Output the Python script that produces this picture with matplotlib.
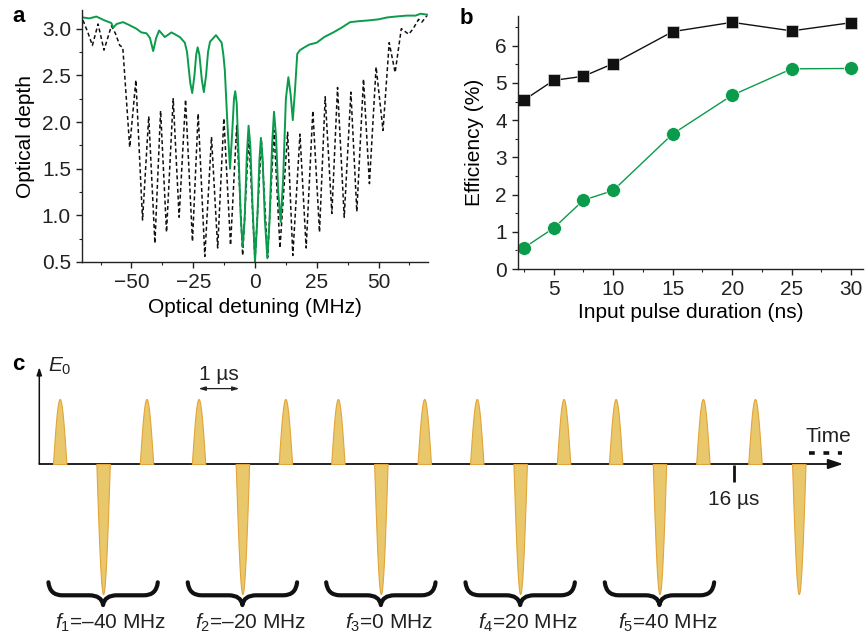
import numpy as np
import matplotlib
matplotlib.use('Agg')
import matplotlib.pyplot as plt
from matplotlib.path import Path
from matplotlib.patches import PathPatch
from matplotlib.ticker import MultipleLocator

plt.rcParams['font.family'] = ['Liberation Sans', 'DejaVu Sans']
plt.rcParams['mathtext.fontset'] = 'custom'
plt.rcParams['mathtext.rm'] = 'Liberation Sans'
plt.rcParams['mathtext.it'] = 'Liberation Sans:italic'
plt.rcParams['axes.unicode_minus'] = True

# ---- panel a: optical depth vs detuning
green_x = [-69.6, -67, -64.2, -61, -58.1, -57.4, -56, -53.4, -51, -48, -46, -43.9, -42.5,
           -41.2, -40, -38.8, -36.5, -33.8, -30.4, -28.4, -27.5, -27.0, -26.2, -25.4, -24.5,
           -23.8, -23.2, -22.5, -21.5, -20.7, -19.8, -19.0, -18.2, -15.8, -13.5, -12.8, -12.2,
           -11.2, -10.1, -9.2, -8.5, -8.0, -7.4, -6.5, -5.8, -5.0, -4.2, -3.3, -2.6, -1.9, -1.0,
           0.0, 1.0, 1.8, 2.4, 3.1, 4.0, 5.0, 5.9, 6.9, 7.7, 8.5, 9.4, 10.4, 11.4, 12.5, 13.5,
           14.4, 15.3, 16.2, 17.1, 18.2, 20, 22, 25.0, 28, 31.7, 35, 38.5, 42, 46.6, 50, 53.4,
           57, 61.5, 65, 67, 69.6]
green_y = [3.12, 3.11, 3.13, 3.09, 3.06, 3.01, 3.05, 3.07, 3.04, 3.00, 2.96, 2.95, 2.90,
           2.76, 2.90, 2.98, 2.91, 2.96, 2.91, 2.85, 2.75, 2.62, 2.42, 2.31, 2.50,
           2.72, 2.80, 2.72, 2.45, 2.32, 2.50, 2.75, 2.86, 2.93, 2.85, 2.72, 2.55,
           2.00, 1.50, 1.90, 2.25, 2.33, 2.20, 1.55, 1.00, 0.66, 0.95, 1.65, 1.96, 1.75, 1.10,
           0.50, 1.00, 1.60, 1.83, 1.60, 0.95, 0.54, 0.95, 1.75, 2.11, 1.85, 1.25, 0.93, 1.40,
           2.25, 2.48, 2.30, 2.02, 2.35, 2.73, 2.77, 2.80, 2.83, 2.85, 2.91, 2.96, 3.01, 3.07,
           3.08, 3.09, 3.10, 3.12, 3.13, 3.14, 3.14, 3.16, 3.15]

comb_x = [-69.6, -67.5, -65.8, -63.5, -61.1, -58.1, -56.5, -54.7, -53.5, -50.7, -48.2, -45.5,
          -43.0, -40.5, -38.2, -35.8, -33.1, -30.7, -28.1, -25.3, -23.0, -20.3, -17.6, -15.1,
          -12.6, -9.9, -7.4, -5.0, -2.5, 0.0, 2.6, 5.1, 7.7, 10.1, 13.2, 15.3, 18.2, 20.7,
          23.4, 26.1, 28.4, 31.1, 33.4, 36.1, 38.8, 41.2, 43.9, 46.3, 49.0, 51.8, 54.3, 56.7,
          59.2, 62.2, 64.0, 66.2, 67.5, 69.6]
comb_y = [3.09, 2.95, 2.82, 3.05, 2.77, 3.03, 2.95, 2.82, 2.80, 1.73, 2.45, 0.95,
          2.06, 0.70, 2.12, 0.82, 2.25, 0.98, 2.24, 0.72, 2.09, 0.56, 1.84, 0.65,
          2.04, 0.68, 1.96, 0.57, 1.85, 0.52, 1.80, 0.55, 1.91, 0.65, 1.89, 0.57, 1.87, 0.65,
          2.12, 0.82, 2.27, 1.02, 2.37, 0.98, 2.32, 1.04, 2.46, 1.34, 2.59, 1.91, 2.85, 2.53,
          3.00, 2.94, 3.00, 3.10, 3.07, 3.14]

# ---- panel b: efficiency vs pulse duration
duration = [2.5, 5, 7.5, 10, 15, 20, 25, 30]
eff_black = [4.54, 5.07, 5.18, 5.52, 6.38, 6.63, 6.40, 6.62]
eff_green = [0.57, 1.10, 1.85, 2.11, 3.63, 4.67, 5.38, 5.39]

# ---- panel c: pulse sequence (times in µs)
pos_times = [0.47, 2.47, 3.67, 5.67, 6.88, 8.87, 10.08, 12.08, 13.28, 15.29, 16.49]
neg_times = [1.47, 4.68, 7.87, 11.08, 14.29, 17.50]
pos_amp = 1.0
neg_amp = -2.0
freq_labels = [r'$f_1$=–40 MHz', r'$f_2$=–20 MHz', r'$f_3$=0 MHz',
               r'$f_4$=20 MHz', r'$f_5$=40 MHz']

GREEN = '#0A9B4B'
FS = 15

fig = plt.figure(figsize=(8.65, 6.39), dpi=100)


def style_axes(ax):
    for s in ['top', 'right']:
        ax.spines[s].set_visible(False)
    for s in ['left', 'bottom']:
        ax.spines[s].set_linewidth(1.0)
        ax.spines[s].set_color('#222222')
    ax.tick_params(which='major', direction='out', length=4, width=1, labelsize=FS,
                   pad=4, colors='#222222')
    ax.tick_params(which='minor', direction='out', length=2.5, width=0.8, colors='#222222')


# panel a
ax = fig.add_axes([82 / 865, 1 - 262 / 639, 346 / 865, 252 / 639])
ax.plot(comb_x, comb_y, color='#111111', lw=1.1, dashes=(2.6, 1.8))
ax.plot(green_x, green_y, color=GREEN, lw=1.4)
ax.set_xlim(-70, 70)
ax.set_ylim(0.5, 3.2)
ax.set_xticks([-50, -25, 0, 25, 50])
ax.set_yticks([0.5, 1.0, 1.5, 2.0, 2.5, 3.0])
ax.yaxis.set_major_formatter(matplotlib.ticker.FormatStrFormatter('%.1f'))
ax.xaxis.set_minor_locator(MultipleLocator(12.5))
ax.yaxis.set_minor_locator(MultipleLocator(0.25))
style_axes(ax)
ax.set_xlabel('Optical detuning (MHz)', fontsize=FS, labelpad=4)
ax.set_ylabel('Optical depth', fontsize=FS, labelpad=5)
fig.text(12 / 865, 1 - 17 / 639, 'a', fontsize=16, fontweight='bold', va='center')

# panel b
ax = fig.add_axes([518 / 865, 1 - 269 / 639, 345 / 865, 253 / 639])
ax.plot(duration, eff_black, color='#111111', lw=1.0, marker='s', ms=8.5,
        mec='#dddddd', mew=0.5, mfc='#111111', clip_on=False)
ax.plot(duration, eff_green, color=GREEN, lw=1.0, marker='o', ms=10,
        mec='white', mew=0.5, mfc=GREEN, clip_on=False)
ax.set_xlim(2, 31)
ax.set_ylim(0, 6.8)
ax.set_xticks([5, 10, 15, 20, 25, 30])
ax.set_yticks([0, 1, 2, 3, 4, 5, 6])
ax.xaxis.set_minor_locator(MultipleLocator(2.5))
ax.yaxis.set_minor_locator(MultipleLocator(0.5))
style_axes(ax)
ax.set_xlabel('Input pulse duration (ns)', fontsize=FS, labelpad=3)
ax.set_ylabel('Efficiency (%)', fontsize=FS, labelpad=8)
fig.text(460 / 865, 1 - 18 / 639, 'b', fontsize=16, fontweight='bold', va='center')

# panel c: schematic
ax = fig.add_axes([0, 0, 1, (639 - 345) / 639])
ax.set_xlim(-39.3 / 43.4, (865 - 39.3) / 43.4)
ax.set_ylim(-(639 - 464) / 65, (464 - 345) / 65)
ax.axis('off')

axis_col = '#333333'
ax.annotate('', xy=(18.52, 0), xytext=(0, 0),
            arrowprops=dict(arrowstyle='-|>,head_length=0.9,head_width=0.3',
                            color='#111111', lw=1.3, shrinkA=0, shrinkB=0), zorder=1)
ax.annotate('', xy=(0, 1.49), xytext=(0, 0),
            arrowprops=dict(arrowstyle='-|>,head_length=0.45,head_width=0.15',
                            color='#111111', lw=1.1, shrinkA=0, shrinkB=0), zorder=1)

hw = 0.155
u = np.linspace(-1, 1, 61)
shape = np.cos(np.pi * u / 2)
for t0 in pos_times:
    ax.fill_between(t0 + hw * u, 0, pos_amp * shape, facecolor='#E9C76B',
                    edgecolor='#E3A43A', lw=0.8, zorder=3)
for t0 in neg_times:
    ax.fill_between(t0 + hw * u, 0, neg_amp * shape, facecolor='#E9C76B',
                    edgecolor='#E3A43A', lw=0.8, zorder=3)


def brace(ax, c, w, y_end, y_bar, y_tip):
    q = 0.32
    verts = [(c - w, y_end), (c - w + 0.03, y_bar), (c - w + q, y_bar),
             (c - q, y_bar), (c - 0.03, y_bar), (c, y_tip),
             (c + 0.03, y_bar), (c + q, y_bar),
             (c + w - q, y_bar), (c + w - 0.03, y_bar), (c + w, y_end)]
    codes = [Path.MOVETO, Path.CURVE3, Path.CURVE3,
             Path.LINETO, Path.CURVE3, Path.CURVE3,
             Path.CURVE3, Path.CURVE3,
             Path.LINETO, Path.CURVE3, Path.CURVE3]
    ax.add_patch(PathPatch(Path(verts, codes), fill=False, lw=3.0,
                           edgecolor='#111111', capstyle='round', joinstyle='round', zorder=4))


for c, lab in zip(neg_times[:5], freq_labels):
    brace(ax, c, 1.26, -1.82, -2.02, -2.17)
    ax.text(c + 0.18, -2.45, lab, fontsize=FS, ha='center', va='center', color='#222222')

# scale arrow, labels
ax.annotate('', xy=(4.61, 1.16), xytext=(3.67, 1.16),
            arrowprops=dict(arrowstyle='<|-|>,head_length=0.4,head_width=0.12',
                            color='#222222', lw=0.9, shrinkA=0, shrinkB=0))
ax.text(4.14, 1.37, '1 µs', fontsize=FS, ha='center', va='center', color='#222222')
ax.text(0.2, 1.51, r'$E_0$', fontsize=FS, ha='left', va='center', color='#222222')
ax.plot([16, 16], [-0.02, -0.27], color='#111111', lw=2.0, solid_capstyle='butt')
ax.text(16, -0.55, '16 µs', fontsize=FS, ha='center', va='center', color='#222222')
ax.text(18.17, 0.43, 'Time', fontsize=FS, ha='center', va='center', color='#222222')
ax.plot([17.74, 18.49], [0.175, 0.175], color='#111111', lw=2.6,
        dashes=(1.6, 2.4), solid_capstyle='butt')
fig.text(12 / 865, 1 - 364 / 639, 'c', fontsize=16, fontweight='bold', va='center')

fig.savefig('out.png', dpi=100)
